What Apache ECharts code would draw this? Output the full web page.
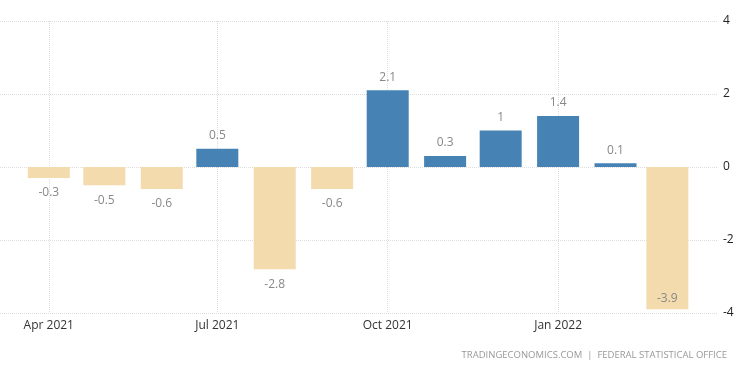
<!DOCTYPE html>
<html>
<head>
<meta charset="utf-8">
<script src="https://cdn.jsdelivr.net/npm/echarts@6/dist/echarts.min.js"></script>
<style>
  html, body { margin: 0; padding: 0; background: #fff; }
  #chart { width: 750px; height: 375px; }
</style>
</head>
<body>
<div id="chart"></div>
<script>
// monthly change, %
const months = [
  "2021-04-01", "2021-05-01", "2021-06-01", "2021-07-01", "2021-08-01", "2021-09-01",
  "2021-10-01", "2021-11-01", "2021-12-01", "2022-01-01", "2022-02-01", "2022-03-01"
];
const values = [-0.3, -0.5, -0.6, 0.5, -2.8, -0.6, 2.1, 0.3, 1, 1.4, 0.1, -3.9];
const yTicks = [-4, -2, 0, 2, 4];
// echarts pads a time axis by half a bar on each side, so this is the inner range
const xRange = ["2021-03-17", "2022-03-17"];
const source = "TRADINGECONOMICS.COM  |  FEDERAL STATISTICAL OFFICE";

const blue = "#4682B4";
const sand = "#F3DBAD";

const toTime = (s) => {
  const p = s.split("-").map(Number);
  return new Date(p[0], p[1] - 1, p[2]).getTime();
};

const barData = months.map((m, i) => {
  const v = values[i];
  return {
    value: [toTime(m), v],
    itemStyle: { color: v >= 0 ? blue : sand },
    label: {
      position: v >= 0 ? "top" : (v < -3.5 ? "insideBottom" : "bottom"),
      distance: v >= 0 ? 7 : (v < -3.5 ? 5 : 9)
    }
  };
});

const chart = echarts.init(document.getElementById("chart"));
chart.setOption({
  animation: false,
  textStyle: { fontFamily: "Open Sans, sans-serif" },
  title: {
    text: source,
    right: 18,
    bottom: 10,
    textStyle: { fontSize: 9.5, fontWeight: "normal", color: "#999" }
  },
  grid: { left: 0, right: 32, top: 21, bottom: 62, outerBoundsMode: "none" },
  xAxis: {
    type: "time",
    min: toTime(xRange[0]),
    max: toTime(xRange[1]),
    minInterval: 3600 * 24 * 1000 * 91,
    maxInterval: 3600 * 24 * 1000 * 92,
    axisLine: { show: false },
    axisTick: { show: false },
    splitLine: {
      show: true,
      showMinLine: false,
      showMaxLine: false,
      lineStyle: { color: "#ddd", type: "dotted" }
    },
    axisLabel: {
      formatter: "{MMM} {yyyy}",
      color: "#333",
      fontSize: 12,
      margin: 7,
      showMinLabel: false,
      showMaxLabel: false,
      hideOverlap: false
    }
  },
  yAxis: {
    type: "value",
    position: "right",
    min: yTicks[0],
    max: yTicks[yTicks.length - 1],
    interval: 2,
    axisLine: { show: false },
    axisTick: { show: false },
    splitLine: { show: true, lineStyle: { color: "#ddd", type: "dotted" } },
    axisLabel: { color: "#222", fontSize: 12, margin: 5 }
  },
  series: [
    {
      type: "bar",
      data: barData,
      barWidth: 42,
      label: { show: true, color: "#888", fontSize: 12 }
    }
  ]
});
</script>
</body>
</html>
